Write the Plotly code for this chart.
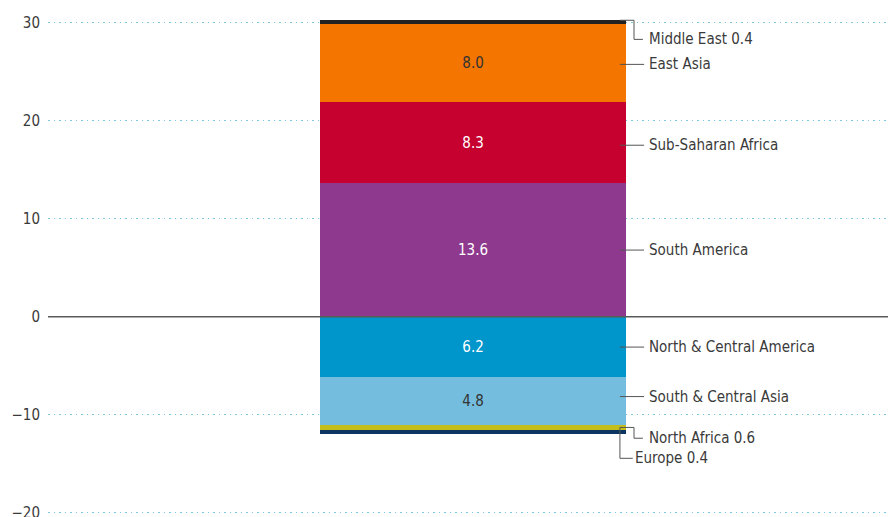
import plotly.graph_objects as go

# ---- data ----
regions = ["South America", "Sub-Saharan Africa", "East Asia", "Middle East",
           "North & Central America", "South & Central Asia", "North Africa", "Europe"]
values = [13.6, 8.3, 8.0, 0.4, -6.2, -4.8, -0.6, -0.4]
colors = ["#8E398D", "#C6002F", "#F47500", "#222222",
          "#0095CB", "#75BDDE", "#C3BE1C", "#0B3560"]
show_inside = [True, True, True, False, True, True, False, False]
inside_text_color = ["white", "white", "#333333", "white",
                     "white", "#333333", "white", "white"]
y_ticks = [-20, -10, 0, 10, 20, 30]
y_tick_labels = ["\u221220", "\u221210", "0", "10", "20", "30"]

FONT = "DejaVu Sans Condensed, Liberation Sans Narrow, sans-serif"
TXT = "#3a3a3a"
FS = 15

fig = go.Figure()
for name, v, c, show, tc in zip(regions, values, colors, show_inside, inside_text_color):
    fig.add_trace(go.Bar(
        x=[0], y=[v], width=1, name=name,
        marker=dict(color=c, line=dict(width=0)),
        text=[f"{abs(v):.1f}"] if show else None,
        textposition="inside", insidetextanchor="middle",
        textfont=dict(color=tc, size=FS, family=FONT),
        showlegend=False, hoverinfo="skip"))

# compute stacked segment extents
pos_base, neg_base = 0.0, 0.0
seg = {}
for name, v in zip(regions, values):
    if v >= 0:
        seg[name] = (pos_base, pos_base + v); pos_base += v
    else:
        seg[name] = (neg_base + v, neg_base); neg_base += v

XR = 0.5           # bar right edge
X_IN = 0.48        # leader start inside bar
X_END = 0.559      # leader end
X_TXT = 0.57
X_ELB = 0.526
LINE = dict(color="#555555", width=1)

shapes = []
annotations = []

def label(text, x, y):
    annotations.append(dict(x=x, y=y, xref="x", yref="y", text=text, showarrow=False,
                            xanchor="left", yanchor="middle",
                            font=dict(family=FONT, size=FS, color=TXT)))

nudge = {"South & Central Asia": 0.45, "East Asia": -0.15, "Sub-Saharan Africa": -0.25}
for name in ["East Asia", "Sub-Saharan Africa", "South America",
             "North & Central America", "South & Central Asia"]:
    lo, hi = seg[name]
    ym = (lo + hi) / 2 + nudge.get(name, 0)
    shapes.append(dict(type="line", x0=X_IN, x1=X_END, y0=ym, y1=ym, xref="x", yref="y", line=LINE))
    label(name, X_TXT, ym)

# Middle East elbow
lo, hi = seg["Middle East"]
y_me = hi - 2.0
shapes.append(dict(type="path", xref="x", yref="y", line=LINE,
                   path=f"M {XR-0.02},{hi-0.05} L {X_ELB},{hi-0.05} L {X_ELB},{y_me} L {X_END-0.004},{y_me}"))
label(f"Middle East {values[regions.index('Middle East')]:.1f}", X_TXT, y_me)

# North Africa elbow
lo, hi = seg["North Africa"]
ym = (lo + hi) / 2
y_na = ym - 1.1
shapes.append(dict(type="path", xref="x", yref="y", line=LINE,
                   path=f"M {X_IN},{ym} L {X_ELB},{ym} L {X_ELB},{y_na} L {X_END-0.004},{y_na}"))
label(f"North Africa {abs(values[regions.index('North Africa')]):.1f}", X_TXT, y_na)

# Europe elbow
lo, hi = seg["Europe"]
ym = (lo + hi) / 2
y_eu = ym - 2.65
shapes.append(dict(type="path", xref="x", yref="y", line=LINE,
                   path=f"M {X_IN},{ym+0.5} L {X_IN},{y_eu} L {X_ELB-0.004},{y_eu}"))
label(f"Europe {abs(values[regions.index('Europe')]):.1f}", X_ELB - 0.002, y_eu)

# zero line
shapes.append(dict(type="line", xref="paper", yref="y", x0=0, x1=1, y0=0, y1=0,
                   line=dict(color="#5a5a5a", width=1.5), layer="above"))

fig.update_layout(
    width=888, height=517,
    margin=dict(l=48, r=0, t=0, b=0),
    paper_bgcolor="white", plot_bgcolor="white",
    barmode="relative", bargap=0,
    shapes=shapes, annotations=annotations,
    font=dict(family=FONT, color=TXT),
    xaxis=dict(range=[-1.389, 1.356], visible=False, fixedrange=True, automargin=False),
    yaxis=dict(range=[-20.44, 32.32], tickvals=y_ticks, ticktext=y_tick_labels,
               showgrid=True, gridcolor="#7CC8E0", griddash="1.5px,4px", gridwidth=1.5,
               zeroline=False, showline=False, ticks="", automargin=False,
               ticklabeloverflow="allow", fixedrange=True,
               tickfont=dict(family=FONT, size=FS, color=TXT), ticklabelstandoff=7),
)

fig.write_html("out.html",
               config={"displayModeBar": False, "staticPlot": True},
               post_script="document.body.style.margin='0';document.body.style.overflow='hidden';")
